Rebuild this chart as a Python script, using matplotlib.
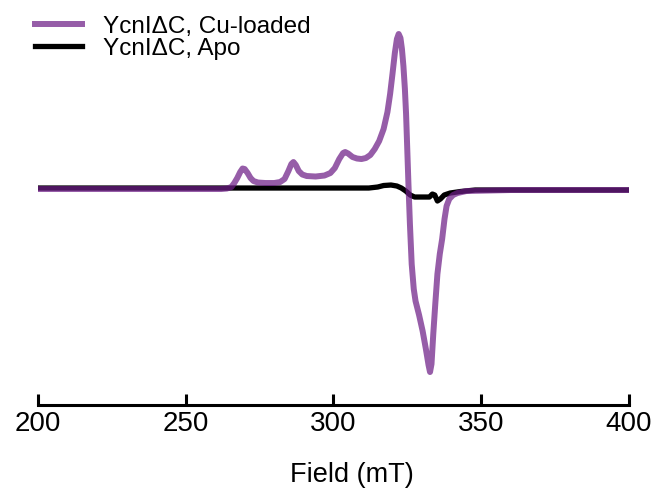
import numpy as np
import matplotlib.pyplot as plt

plt.rcParams['font.family'] = ['Liberation Sans', 'DejaVu Sans']

# EPR spectra, field in mT, intensity in arbitrary units
field_cu = [200, 230, 262, 264, 265.5, 266.5, 267.5, 268.5, 269.3, 270, 271, 272,
            273, 274.5, 277, 280, 282, 283.5, 284.8, 285.8, 286.5, 287.3, 288.3,
            289.5, 291, 294, 297, 299, 300.5, 302, 303.3, 304, 305, 306.5, 308,
            309.5, 311, 312.5, 314, 315.5, 317, 318.3, 319.2, 320, 320.8, 321.5,
            322.1, 322.7, 323.2, 323.7, 324.2, 324.6, 325, 325.4, 325.9, 326.5,
            327.2, 327.8, 329, 330.2, 331.3, 332.2, 332.7, 333.2, 333.8, 334.5,
            335.2, 336, 336.8, 337.6, 338.3, 339.2, 340.5, 342, 345, 360, 380, 400]
int_cu = [0, 0, 0, 0.5, 2, 6, 11, 17, 20.5, 20, 16, 11,
          8, 6.5, 6, 6, 7, 10, 18, 25, 27, 24, 18,
          14.5, 13, 12.5, 13.5, 16, 21, 30, 36, 37, 35.5, 32, 30.5,
          30, 31, 34, 40, 48, 60, 77, 95, 115, 136, 150,
          155, 151, 140, 123, 100, 75, 40, 5, -35, -75,
          -100, -112, -126, -142, -160, -176, -183, -175, -145, -114,
          -85, -65, -50, -30, -17, -10, -6, -4, -2, -1, -1, -1]

field_apo = [200, 260, 300, 312, 315, 317, 319.5, 321.5, 323, 324.5, 326, 327.5,
             330, 332.5, 333.5, 334.3, 335.2, 336.2, 337.5, 339.5, 343, 348, 400]
int_apo = [1, 1, 1, 1, 2, 3.5, 4, 3, 1, -2, -6, -8,
           -8, -8, -5, -6, -12, -10, -6, -4, -2.5, -1, -1]

labels = ['YcnIΔC, Cu-loaded', 'YcnIΔC, Apo']
xticks = [200, 250, 300, 350, 400]

fig = plt.figure(figsize=(6.51, 4.88), dpi=100)
ax = fig.add_axes([0.0579, 0.170, 0.9083, 0.8095])

ax.plot(field_apo, int_apo, color='black', lw=3.8, label=labels[1], zorder=2,
        solid_joinstyle='round')
ax.plot(field_cu, int_cu, color='#6e1e87', alpha=0.72, lw=4.3, label=labels[0], zorder=3,
        solid_joinstyle='round')

ax.set_xlim(200, 400)
ax.set_ylim(-216, 179)
ax.set_xticks(xticks)
ax.set_yticks([])
for s in ['top', 'right', 'left']:
    ax.spines[s].set_visible(False)
ax.spines['bottom'].set_linewidth(2.2)
ax.tick_params(axis='x', direction='in', length=8, width=2.2, labelsize=20, pad=4)
ax.set_xlabel('Field (mT)', fontsize=19.5)
ax.xaxis.set_label_coords(0.531, -0.145)

h, l = ax.get_legend_handles_labels()
fig.legend(h[::-1], l[::-1], loc='upper left', bbox_to_anchor=(0.0538, 0.968),
           bbox_transform=fig.transFigure, frameon=False, fontsize=17.5,
           handlelength=1.93, handletextpad=0.86, labelspacing=0,
           borderpad=0, borderaxespad=0)

fig.savefig('out.png', dpi=100)
